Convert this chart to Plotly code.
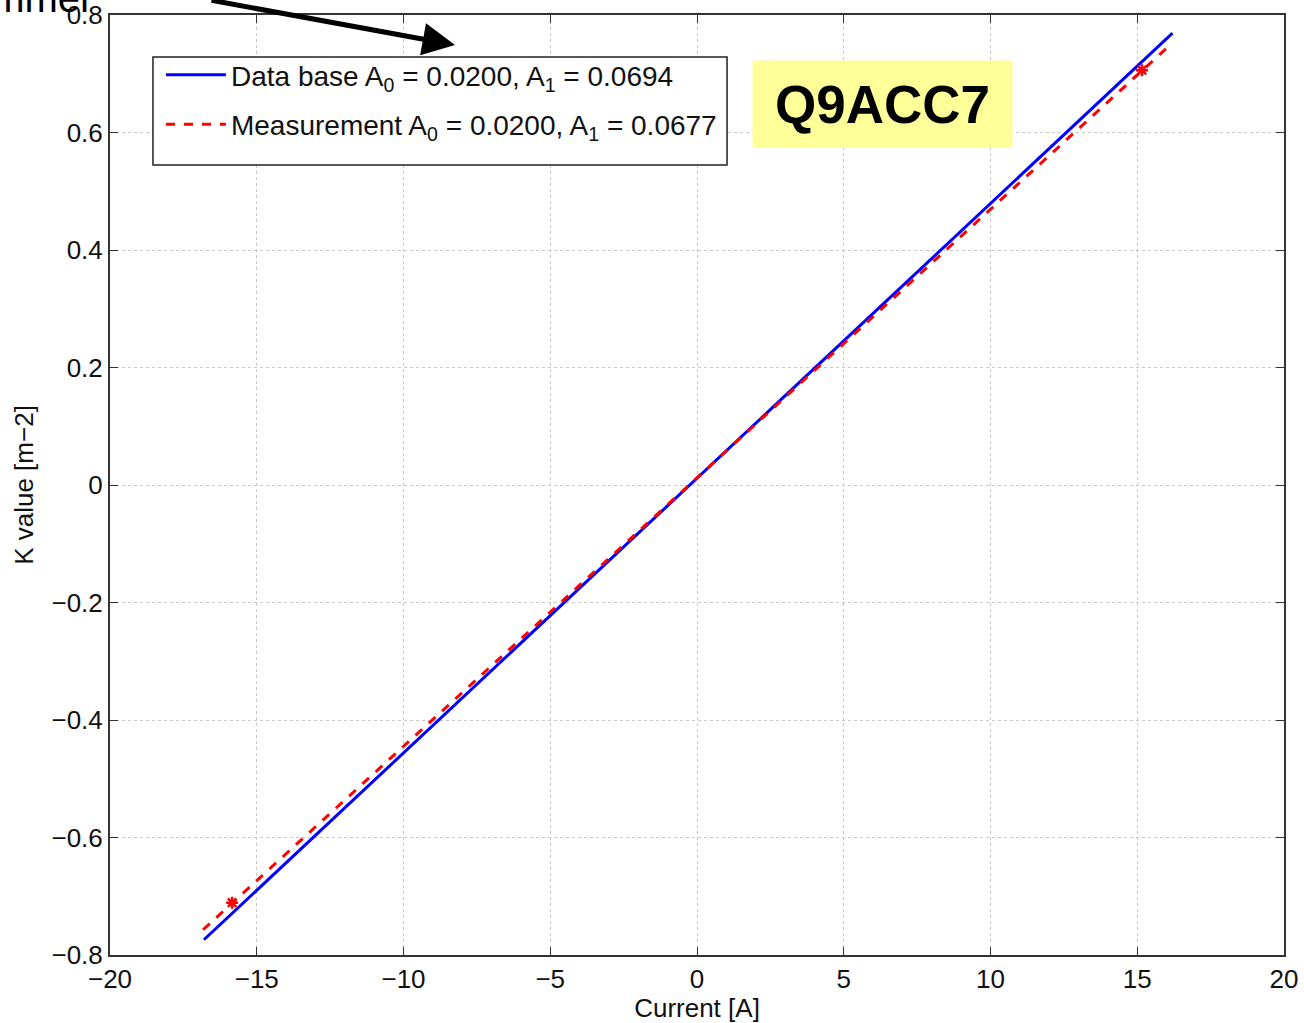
import plotly.graph_objects as go

# Data
db_x = [-16.8, 16.2]
db_y = [-0.774, 0.769]
meas_x = [-16.83, 16.12]
meas_y = [-0.757, 0.749]
meas_pts_x = [-15.84, 15.16]
meas_pts_y = [-0.711, 0.706]

x_ticks = [-20, -15, -10, -5, 0, 5, 10, 15, 20]
y_ticks = [-0.8, -0.6, -0.4, -0.2, 0, 0.2, 0.4, 0.6, 0.8]

label_db = "Data base A<sub>0</sub> = 0.0200, A<sub>1</sub> = 0.0694"
label_meas = "Measurement A<sub>0</sub> = 0.0200, A<sub>1</sub> = 0.0677"
magnet = "Q9ACC7"

FONT = "Liberation Sans, Arial, Helvetica, sans-serif"

fig = go.Figure()
fig.add_trace(go.Scatter(x=db_x, y=db_y, mode="lines", name=label_db,
                         line=dict(color="#0000ff", width=3), legendgroup="a"))
fig.add_trace(go.Scatter(x=meas_x, y=meas_y, mode="lines", name=label_meas,
                         line=dict(color="#ff0000", width=3, dash="dash"), legendgroup="b"))
fig.add_trace(go.Scatter(x=meas_pts_x, y=meas_pts_y, mode="markers", showlegend=False,
                         marker=dict(symbol="asterisk-open", size=10, color="#ff0000",
                                     line=dict(color="#ff0000", width=2.5))))

axis_common = dict(
    showgrid=True, gridcolor="#c8c8c8", gridwidth=1, griddash="dot",
    showline=True, linecolor="#333", linewidth=2, mirror="allticks",
    ticks="inside", ticklen=8, tickcolor="#333", tickwidth=1,
    zeroline=False, automargin=False, ticklabeloverflow="allow",
    tickfont=dict(size=26, color="#111", family=FONT),
)

fig.update_xaxes(range=[-20, 20], tickvals=x_ticks,
                 ticktext=[str(v).replace("-", "\u2212") for v in x_ticks],
                 title=dict(text="Current [A]", font=dict(size=26, color="#111", family=FONT),
                            standoff=2),
                 **axis_common)
fig.update_yaxes(range=[-0.8, 0.8], tickvals=y_ticks,
                 ticktext=[("0" if v == 0 else f"{v:.1f}").replace("-", "\u2212") for v in y_ticks],
                 title=dict(text="K value [m\u22122]", font=dict(size=26, color="#111", family=FONT),
                            standoff=10),
                 **axis_common)

fig.update_layout(
    width=1304, height=1023,
    margin=dict(l=110, r=20, t=15, b=68),
    paper_bgcolor="white", plot_bgcolor="white",
    font=dict(family=FONT, color="#111"),
    legend=dict(x=0.0434, y=0.9626, xanchor="left", yanchor="top",
                bgcolor="rgba(0,0,0,0)", borderwidth=0,
                font=dict(size=28, family=FONT, color="#111"),
                itemwidth=60, tracegroupgap=10, traceorder="grouped"),
    showlegend=True,
)

# legend frame
fig.add_shape(type="rect", xref="paper", yref="paper",
              x0=0.0366, x1=0.5256, y0=0.8404, y1=0.9553,
              line=dict(color="#222", width=1.5), fillcolor="white", layer="above")

# yellow label box
fig.add_annotation(x=0.658, y=0.905, xref="paper", yref="paper",
                   xanchor="center", yanchor="middle",
                   text=f"<b>{magnet}</b>", showarrow=False,
                   font=dict(size=53, family=FONT, color="black"),
                   bgcolor="#ffff99", width=257, height=84, align="center", valign="middle")

# arrow from cut-off text
fig.add_annotation(x=0.2939, y=0.968, xref="paper", yref="paper",
                   ax=-245, ay=-50, axref="pixel", ayref="pixel",
                   text="", showarrow=True, arrowhead=2, arrowsize=1.3,
                   arrowwidth=5, arrowcolor="black")

# cut-off text at the top left
fig.add_annotation(x=-0.0126, y=1.018, xref="paper", yref="paper",
                   xanchor="right", yanchor="middle", text="Trimmer", showarrow=False,
                   font=dict(size=40, family=FONT, color="black"))

fig.write_html("out.html", config={"displayModeBar": False},
               post_script="document.body.style.margin='0';document.body.style.overflow='hidden';")
